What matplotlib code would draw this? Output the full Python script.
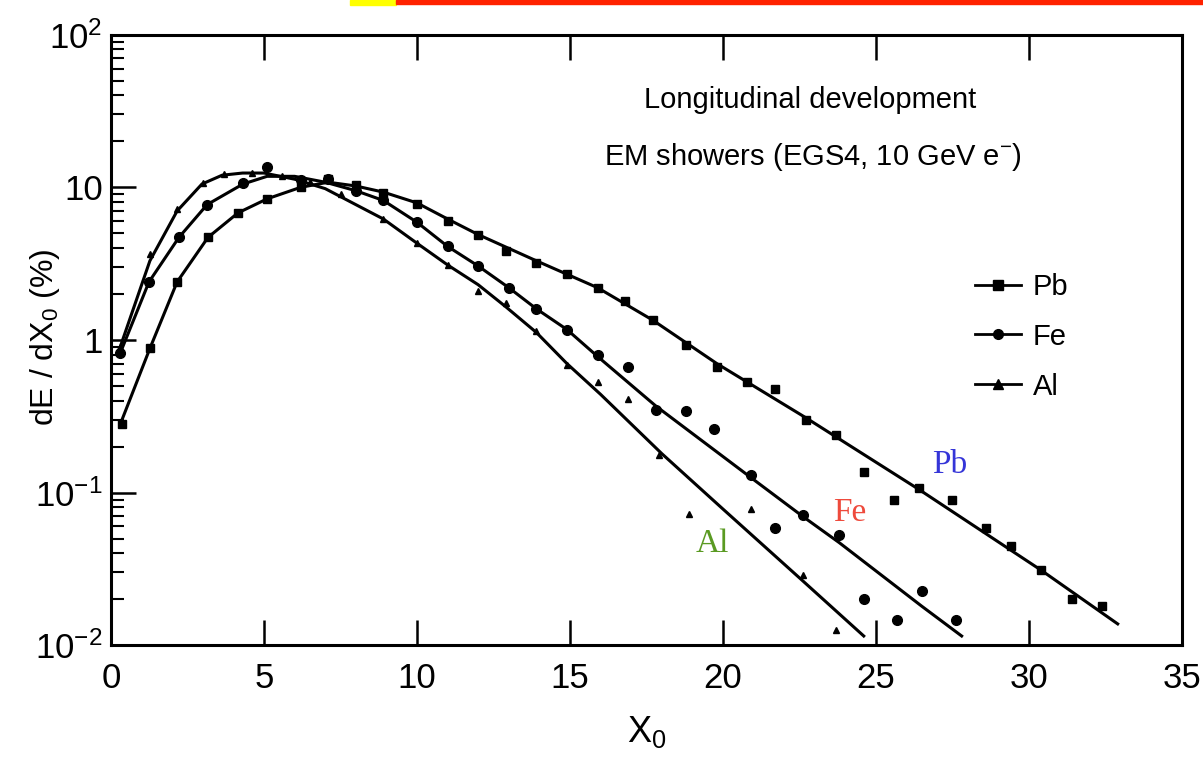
import matplotlib
matplotlib.use("Agg")
import matplotlib.pyplot as plt
from matplotlib import font_manager as fm
from matplotlib.lines import Line2D
from matplotlib.patches import Rectangle

names = {f.name for f in fm.fontManager.ttflist}
FONT = 'Liberation Sans Narrow' if 'Liberation Sans Narrow' in names else 'Liberation Sans'
plt.rcParams['font.family'] = [FONT, 'DejaVu Sans']
plt.rcParams['mathtext.default'] = 'regular'

# ---- fitted curves (lines) ----
pb_line_x = [0.3, 1.27, 2.16, 3.17, 4.15, 5.1, 6.2, 7.1, 8.0, 8.9, 10.0, 11.0, 12.0, 13.9, 15.9, 17.7, 19.8, 22.7, 26.4, 30.4, 32.9]
pb_line_y = [0.28, 0.88, 2.4, 4.7, 6.8, 8.4, 10.0, 10.8, 10.2, 9.3, 7.9, 6.2, 4.9, 3.3, 2.2, 1.35, 0.70, 0.31, 0.105, 0.031, 0.0138]

fe_line_x = [0.3, 1.24, 2.22, 3.14, 4.31, 5.1, 6.0, 7.0, 8.0, 8.9, 10.0, 11.0, 12.0, 13.0, 13.9, 14.9, 15.9, 17.8, 20.9, 22.6, 23.8, 26.5, 27.8]
fe_line_y = [0.82, 2.4, 4.7, 7.7, 10.5, 11.8, 11.8, 10.8, 9.5, 8.2, 5.9, 4.1, 3.05, 2.2, 1.6, 1.17, 0.78, 0.37, 0.126, 0.070, 0.047, 0.018, 0.0115]

al_line_x = [0.3, 1.27, 2.16, 2.97, 3.63, 4.3, 5.0, 6.0, 7.0, 8.0, 8.9, 10.0, 11.0, 12.0, 12.9, 13.9, 14.9, 16.0, 18.0, 20.0, 22.6, 24.6]
al_line_y = [0.9, 3.3, 7.0, 10.5, 12.0, 12.4, 12.4, 11.3, 9.8, 7.7, 6.2, 4.3, 3.1, 2.3, 1.65, 1.12, 0.70, 0.44, 0.18, 0.078, 0.0265, 0.0115]

# ---- simulation points (markers) ----
pb_pts_x = [0.35, 1.27, 2.16, 3.17, 4.15, 5.1, 6.2, 7.1, 8.0, 8.9, 10.0, 11.0, 12.0, 12.9, 13.9, 14.9, 15.9, 16.8, 17.7, 18.8, 19.8, 20.8, 21.7, 22.7, 23.7, 24.6, 25.6, 26.4, 27.5, 28.6, 29.4, 30.4, 31.4, 32.4]
pb_pts_y = [0.28, 0.88, 2.4, 4.7, 6.8, 8.4, 10.0, 11.3, 10.4, 9.2, 7.8, 6.0, 4.9, 3.8, 3.2, 2.7, 2.2, 1.8, 1.35, 0.93, 0.67, 0.53, 0.48, 0.30, 0.24, 0.136, 0.089, 0.108, 0.090, 0.059, 0.045, 0.031, 0.020, 0.018]

fe_pts_x = [0.3, 1.24, 2.22, 3.14, 4.31, 5.1, 6.2, 7.1, 8.0, 8.9, 10.0, 11.0, 12.0, 13.0, 13.9, 14.9, 15.9, 16.9, 17.8, 18.8, 19.7, 20.9, 21.7, 22.6, 23.8, 24.6, 25.7, 26.5, 27.6]
fe_pts_y = [0.82, 2.4, 4.7, 7.7, 10.7, 13.5, 11.1, 11.3, 9.5, 8.2, 5.9, 4.1, 3.05, 2.2, 1.59, 1.17, 0.80, 0.67, 0.35, 0.34, 0.26, 0.13, 0.059, 0.071, 0.053, 0.020, 0.0146, 0.0227, 0.0146]

al_pts_x = [0.3, 1.27, 2.16, 3.0, 3.7, 4.6, 5.6, 6.5, 7.5, 8.9, 10.0, 11.0, 12.0, 12.9, 13.9, 14.9, 15.9, 16.9, 17.9, 18.9, 20.9, 22.6, 23.7]
al_pts_y = [0.9, 3.66, 7.2, 10.6, 12.3, 12.4, 11.8, 10.8, 9.0, 6.2, 4.3, 3.1, 2.1, 1.74, 1.14, 0.69, 0.53, 0.41, 0.176, 0.072, 0.078, 0.029, 0.0126]

series_names = ['Pb', 'Fe', 'Al']
series_markers = ['s', 'o', '^']
label_colors = ['#3535d8', '#ee4a3c', '#5a9a22']
label_pos = [(27.4, 0.153), (24.15, 0.074), (19.64, 0.046)]

y_ticks = [1e-2, 1e-1, 1, 10, 1e2]
y_tick_labels = ['$10^{-2}$', '$10^{-1}$', '1', '10', '$10^{2}$']
x_ticks = [0, 5, 10, 15, 20, 25, 30, 35]

fig = plt.figure(figsize=(12.03, 7.70), dpi=100)
ax = fig.add_axes([0.0923, 0.162, 0.8902, 0.793])

lw = 2.2
ax.plot(pb_line_x, pb_line_y, color='black', lw=lw)
ax.plot(fe_line_x, fe_line_y, color='black', lw=lw)
ax.plot(al_line_x, al_line_y, color='black', lw=lw)
ax.plot(pb_pts_x, pb_pts_y, ls='none', marker='s', ms=5.5, color='black')
ax.plot(fe_pts_x, fe_pts_y, ls='none', marker='o', ms=7, color='black')
ax.plot(al_pts_x, al_pts_y, ls='none', marker='^', ms=5, color='black')

ax.set_yscale('log')
ax.set_xlim(0, 35)
ax.set_ylim(1e-2, 1e2)
ax.set_yticks(y_ticks)
ax.set_yticklabels(y_tick_labels)
ax.set_xticks(x_ticks)
ax.set_xticklabels([str(v) for v in x_ticks])

for s in ax.spines.values():
    s.set_linewidth(2.2)
ax.tick_params(axis='x', which='major', direction='in', length=18, width=1.8,
               top=True, bottom=True, labelsize=25, pad=12)
ax.tick_params(axis='y', which='major', direction='in', length=18, width=1.8,
               left=True, right=False, labelsize=25, pad=6)
ax.tick_params(axis='y', which='minor', direction='in', length=9, width=1.5,
               left=True, right=False)

ax.set_xlabel('$X_0$', fontsize=26, labelpad=14)
ax.set_ylabel('dE / dX$_0$ (%)', fontsize=23)
ax.yaxis.set_label_coords(-0.046, 0.505)

ax.text(0.653, 0.893, 'Longitudinal development', transform=ax.transAxes,
        ha='center', va='center', fontsize=21)
ax.text(0.655, 0.80, 'EM showers (EGS4, 10 GeV e$^{-}$)', transform=ax.transAxes,
        ha='center', va='center', fontsize=21)

handles = [Line2D([], [], color='black', lw=2, marker=m, ms=7) for m in series_markers]
ax.legend(handles, series_names, loc='upper left', bbox_to_anchor=(0.782, 0.653),
          frameon=False, fontsize=21, handlelength=1.6, numpoints=1,
          labelspacing=0.75, handletextpad=0.4)

for name, col, (lx, ly) in zip(series_names, label_colors, label_pos):
    ax.text(lx, ly, name, color=col, fontsize=24, family=['Liberation Serif', 'DejaVu Serif'],
            ha='center', va='center')

# slide header remnants at the top edge
fig.patches.append(Rectangle((350 / 1203, 1 - 5 / 770), 46 / 1203, 5 / 770,
                             transform=fig.transFigure, color='#ffff00', zorder=5))
fig.patches.append(Rectangle((396 / 1203, 1 - 4 / 770), 807 / 1203, 4 / 770,
                             transform=fig.transFigure, color='#ff2200', zorder=5))

fig.savefig('out.png', dpi=100)
